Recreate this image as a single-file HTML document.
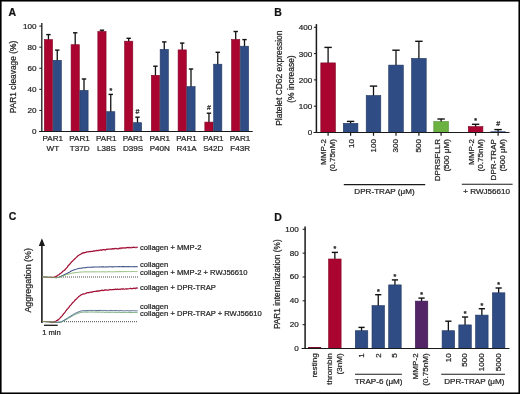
<!DOCTYPE html>
<html><head><meta charset="utf-8"><style>
html,body{margin:0;padding:0;background:#fff;}
body{width:520px;height:394px;overflow:hidden;}
svg{display:block;font-family:"Liberation Sans",sans-serif;will-change:transform;}
text{stroke:#222;stroke-width:0.22px;}
</style></head><body>
<svg width="520" height="394" viewBox="0 0 520 394">
<rect x="0" y="0" width="520" height="394" fill="#fff"/>
<text x="8.5" y="16.3" font-size="10.5" text-anchor="start" font-weight="bold" fill="#111">A</text>
<line x1="41.8" y1="23.0" x2="41.8" y2="131.5" stroke="#1a1a1a" stroke-width="1.3" />
<line x1="39.3" y1="131.5" x2="41.8" y2="131.5" stroke="#1a1a1a" stroke-width="1" />
<text x="36.4" y="134.4" font-size="8.1" text-anchor="end" font-weight="normal" fill="#1e1e1e">0</text>
<line x1="39.3" y1="110.42" x2="41.8" y2="110.42" stroke="#1a1a1a" stroke-width="1" />
<text x="36.4" y="113.32000000000001" font-size="8.1" text-anchor="end" font-weight="normal" fill="#1e1e1e">20</text>
<line x1="39.3" y1="89.34" x2="41.8" y2="89.34" stroke="#1a1a1a" stroke-width="1" />
<text x="36.4" y="92.24000000000001" font-size="8.1" text-anchor="end" font-weight="normal" fill="#1e1e1e">40</text>
<line x1="39.3" y1="68.25999999999999" x2="41.8" y2="68.25999999999999" stroke="#1a1a1a" stroke-width="1" />
<text x="36.4" y="71.16" font-size="8.1" text-anchor="end" font-weight="normal" fill="#1e1e1e">60</text>
<line x1="39.3" y1="47.17999999999999" x2="41.8" y2="47.17999999999999" stroke="#1a1a1a" stroke-width="1" />
<text x="36.4" y="50.07999999999999" font-size="8.1" text-anchor="end" font-weight="normal" fill="#1e1e1e">80</text>
<line x1="39.3" y1="26.099999999999994" x2="41.8" y2="26.099999999999994" stroke="#1a1a1a" stroke-width="1" />
<text x="36.4" y="28.999999999999993" font-size="8.1" text-anchor="end" font-weight="normal" fill="#1e1e1e">100</text>
<line x1="39.0" y1="131.5" x2="252.5" y2="131.5" stroke="#1a1a1a" stroke-width="1.1" />
<text x="16.0" y="77.0" font-size="8.4" text-anchor="middle" font-weight="normal" fill="#1e1e1e" transform="rotate(-90 16.0 77.0)">PAR1 cleavage (%)</text>
<line x1="48.45" y1="34.6" x2="48.45" y2="40.8" stroke="#111" stroke-width="1.3" />
<line x1="46.25" y1="34.6" x2="50.65" y2="34.6" stroke="#111" stroke-width="1.4" />
<line x1="57.25" y1="50.1" x2="57.25" y2="61.5" stroke="#111" stroke-width="1.3" />
<line x1="55.05" y1="50.1" x2="59.45" y2="50.1" stroke="#111" stroke-width="1.4" />
<rect x="44.35" y="39.60" width="8.20" height="91.90" fill="#aa0530" stroke="#7e0424" stroke-width="0.6"/>
<rect x="53.15" y="60.30" width="8.20" height="71.20" fill="#2f4c84" stroke="#22385f" stroke-width="0.6"/>
<text x="52.849999999999994" y="141.2" font-size="8.1" text-anchor="middle" font-weight="normal" fill="#1e1e1e">PAR1</text>
<text x="52.849999999999994" y="151" font-size="8.1" text-anchor="middle" font-weight="normal" fill="#1e1e1e">WT</text>
<line x1="75.2" y1="32.8" x2="75.2" y2="45.9" stroke="#111" stroke-width="1.3" />
<line x1="73.0" y1="32.8" x2="77.4" y2="32.8" stroke="#111" stroke-width="1.4" />
<line x1="84.0" y1="79.0" x2="84.0" y2="91.6" stroke="#111" stroke-width="1.3" />
<line x1="81.8" y1="79.0" x2="86.2" y2="79.0" stroke="#111" stroke-width="1.4" />
<rect x="71.10" y="44.70" width="8.20" height="86.80" fill="#aa0530" stroke="#7e0424" stroke-width="0.6"/>
<rect x="79.90" y="90.40" width="8.20" height="41.10" fill="#2f4c84" stroke="#22385f" stroke-width="0.6"/>
<text x="79.6" y="141.2" font-size="8.1" text-anchor="middle" font-weight="normal" fill="#1e1e1e">PAR1</text>
<text x="79.6" y="151" font-size="8.1" text-anchor="middle" font-weight="normal" fill="#1e1e1e">T37D</text>
<line x1="101.95" y1="30.2" x2="101.95" y2="32.7" stroke="#111" stroke-width="1.3" />
<line x1="99.75" y1="30.2" x2="104.15" y2="30.2" stroke="#111" stroke-width="1.4" />
<line x1="110.75" y1="94.4" x2="110.75" y2="112.9" stroke="#111" stroke-width="1.3" />
<line x1="108.55" y1="94.4" x2="112.95" y2="94.4" stroke="#111" stroke-width="1.4" />
<rect x="97.85" y="31.50" width="8.20" height="100.00" fill="#aa0530" stroke="#7e0424" stroke-width="0.6"/>
<rect x="106.65" y="111.70" width="8.20" height="19.80" fill="#2f4c84" stroke="#22385f" stroke-width="0.6"/>
<text x="110.75" y="93.48" font-size="7.0" text-anchor="middle" font-weight="bold" fill="#1e1e1e">*</text>
<text x="106.35" y="141.2" font-size="8.1" text-anchor="middle" font-weight="normal" fill="#1e1e1e">PAR1</text>
<text x="106.35" y="151" font-size="8.1" text-anchor="middle" font-weight="normal" fill="#1e1e1e">L38S</text>
<line x1="128.7" y1="38.3" x2="128.7" y2="42.4" stroke="#111" stroke-width="1.3" />
<line x1="126.5" y1="38.3" x2="130.9" y2="38.3" stroke="#111" stroke-width="1.4" />
<line x1="137.5" y1="117.2" x2="137.5" y2="123.9" stroke="#111" stroke-width="1.3" />
<line x1="135.3" y1="117.2" x2="139.7" y2="117.2" stroke="#111" stroke-width="1.4" />
<rect x="124.60" y="41.20" width="8.20" height="90.30" fill="#aa0530" stroke="#7e0424" stroke-width="0.6"/>
<rect x="133.40" y="122.70" width="8.20" height="8.80" fill="#2f4c84" stroke="#22385f" stroke-width="0.6"/>
<text x="137.5" y="113.79" font-size="7.0" text-anchor="middle" font-weight="normal" fill="#1e1e1e">#</text>
<text x="133.1" y="141.2" font-size="8.1" text-anchor="middle" font-weight="normal" fill="#1e1e1e">PAR1</text>
<text x="133.1" y="151" font-size="8.1" text-anchor="middle" font-weight="normal" fill="#1e1e1e">D39S</text>
<line x1="155.45" y1="66.2" x2="155.45" y2="76.5" stroke="#111" stroke-width="1.3" />
<line x1="153.25" y1="66.2" x2="157.65" y2="66.2" stroke="#111" stroke-width="1.4" />
<line x1="164.25" y1="41.9" x2="164.25" y2="50.6" stroke="#111" stroke-width="1.3" />
<line x1="162.05" y1="41.9" x2="166.45" y2="41.9" stroke="#111" stroke-width="1.4" />
<rect x="151.35" y="75.30" width="8.20" height="56.20" fill="#aa0530" stroke="#7e0424" stroke-width="0.6"/>
<rect x="160.15" y="49.40" width="8.20" height="82.10" fill="#2f4c84" stroke="#22385f" stroke-width="0.6"/>
<text x="159.85000000000002" y="141.2" font-size="8.1" text-anchor="middle" font-weight="normal" fill="#1e1e1e">PAR1</text>
<text x="159.85000000000002" y="151" font-size="8.1" text-anchor="middle" font-weight="normal" fill="#1e1e1e">P40N</text>
<line x1="182.2" y1="43.1" x2="182.2" y2="51.1" stroke="#111" stroke-width="1.3" />
<line x1="180.0" y1="43.1" x2="184.4" y2="43.1" stroke="#111" stroke-width="1.4" />
<line x1="191.0" y1="69.0" x2="191.0" y2="87.8" stroke="#111" stroke-width="1.3" />
<line x1="188.8" y1="69.0" x2="193.2" y2="69.0" stroke="#111" stroke-width="1.4" />
<rect x="178.10" y="49.90" width="8.20" height="81.60" fill="#aa0530" stroke="#7e0424" stroke-width="0.6"/>
<rect x="186.90" y="86.60" width="8.20" height="44.90" fill="#2f4c84" stroke="#22385f" stroke-width="0.6"/>
<text x="186.60000000000002" y="141.2" font-size="8.1" text-anchor="middle" font-weight="normal" fill="#1e1e1e">PAR1</text>
<text x="186.60000000000002" y="151" font-size="8.1" text-anchor="middle" font-weight="normal" fill="#1e1e1e">R41A</text>
<line x1="208.95" y1="113.2" x2="208.95" y2="123.3" stroke="#111" stroke-width="1.3" />
<line x1="206.75" y1="113.2" x2="211.15" y2="113.2" stroke="#111" stroke-width="1.4" />
<line x1="217.75" y1="52.3" x2="217.75" y2="65.4" stroke="#111" stroke-width="1.3" />
<line x1="215.55" y1="52.3" x2="219.95" y2="52.3" stroke="#111" stroke-width="1.4" />
<rect x="204.85" y="122.10" width="8.20" height="9.40" fill="#aa0530" stroke="#7e0424" stroke-width="0.6"/>
<rect x="213.65" y="64.20" width="8.20" height="67.30" fill="#2f4c84" stroke="#22385f" stroke-width="0.6"/>
<text x="208.95" y="109.79" font-size="7.0" text-anchor="middle" font-weight="normal" fill="#1e1e1e">#</text>
<text x="213.35000000000002" y="141.2" font-size="8.1" text-anchor="middle" font-weight="normal" fill="#1e1e1e">PAR1</text>
<text x="213.35000000000002" y="151" font-size="8.1" text-anchor="middle" font-weight="normal" fill="#1e1e1e">S42D</text>
<line x1="235.7" y1="31.5" x2="235.7" y2="40.7" stroke="#111" stroke-width="1.3" />
<line x1="233.5" y1="31.5" x2="237.9" y2="31.5" stroke="#111" stroke-width="1.4" />
<line x1="244.5" y1="39.6" x2="244.5" y2="47.4" stroke="#111" stroke-width="1.3" />
<line x1="242.3" y1="39.6" x2="246.7" y2="39.6" stroke="#111" stroke-width="1.4" />
<rect x="231.60" y="39.50" width="8.20" height="92.00" fill="#aa0530" stroke="#7e0424" stroke-width="0.6"/>
<rect x="240.40" y="46.20" width="8.20" height="85.30" fill="#2f4c84" stroke="#22385f" stroke-width="0.6"/>
<text x="240.10000000000002" y="141.2" font-size="8.1" text-anchor="middle" font-weight="normal" fill="#1e1e1e">PAR1</text>
<text x="240.10000000000002" y="151" font-size="8.1" text-anchor="middle" font-weight="normal" fill="#1e1e1e">F43R</text>
<line x1="39.0" y1="131.5" x2="252.5" y2="131.5" stroke="#1a1a1a" stroke-width="1.1" />
<text x="274.3" y="16.0" font-size="10.5" text-anchor="start" font-weight="bold" fill="#111">B</text>
<line x1="316.4" y1="24.1" x2="316.4" y2="132.5" stroke="#1a1a1a" stroke-width="1.5" />
<line x1="313.9" y1="132.5" x2="316.4" y2="132.5" stroke="#1a1a1a" stroke-width="1" />
<text x="312.2" y="135.4" font-size="8.1" text-anchor="end" font-weight="normal" fill="#1e1e1e">0</text>
<line x1="313.9" y1="106.2" x2="316.4" y2="106.2" stroke="#1a1a1a" stroke-width="1" />
<text x="312.2" y="109.10000000000001" font-size="8.1" text-anchor="end" font-weight="normal" fill="#1e1e1e">100</text>
<line x1="313.9" y1="79.9" x2="316.4" y2="79.9" stroke="#1a1a1a" stroke-width="1" />
<text x="312.2" y="82.80000000000001" font-size="8.1" text-anchor="end" font-weight="normal" fill="#1e1e1e">200</text>
<line x1="313.9" y1="53.599999999999994" x2="316.4" y2="53.599999999999994" stroke="#1a1a1a" stroke-width="1" />
<text x="312.2" y="56.49999999999999" font-size="8.1" text-anchor="end" font-weight="normal" fill="#1e1e1e">300</text>
<line x1="313.9" y1="27.299999999999997" x2="316.4" y2="27.299999999999997" stroke="#1a1a1a" stroke-width="1" />
<text x="312.2" y="30.199999999999996" font-size="8.1" text-anchor="end" font-weight="normal" fill="#1e1e1e">400</text>
<text x="281.9" y="78.2" font-size="8.45" text-anchor="middle" font-weight="normal" fill="#1e1e1e" transform="rotate(-90 281.9 78.2)">Platelet CD62 expression</text>
<text x="293.6" y="79.0" font-size="8.45" text-anchor="middle" font-weight="normal" fill="#1e1e1e" transform="rotate(-90 293.6 79.0)">(% increase)</text>
<line x1="328.1" y1="47.4" x2="328.1" y2="64.1" stroke="#111" stroke-width="1.3" />
<line x1="324.4" y1="47.4" x2="331.8" y2="47.4" stroke="#111" stroke-width="1.4" />
<rect x="320.80" y="62.90" width="14.60" height="69.60" fill="#aa0530" stroke="#7e0424" stroke-width="0.6"/>
<line x1="328.1" y1="132.5" x2="328.1" y2="135.8" stroke="#1a1a1a" stroke-width="1.2" />
<line x1="350.6" y1="121.4" x2="350.6" y2="124.5" stroke="#111" stroke-width="1.3" />
<line x1="346.9" y1="121.4" x2="354.3" y2="121.4" stroke="#111" stroke-width="1.4" />
<rect x="343.30" y="123.30" width="14.60" height="9.20" fill="#2f4c84" stroke="#22385f" stroke-width="0.6"/>
<line x1="350.6" y1="132.5" x2="350.6" y2="135.8" stroke="#1a1a1a" stroke-width="1.2" />
<line x1="373.5" y1="86.1" x2="373.5" y2="96.7" stroke="#111" stroke-width="1.3" />
<line x1="369.8" y1="86.1" x2="377.2" y2="86.1" stroke="#111" stroke-width="1.4" />
<rect x="366.20" y="95.50" width="14.60" height="37.00" fill="#2f4c84" stroke="#22385f" stroke-width="0.6"/>
<line x1="373.5" y1="132.5" x2="373.5" y2="135.8" stroke="#1a1a1a" stroke-width="1.2" />
<line x1="396.0" y1="50.2" x2="396.0" y2="66.3" stroke="#111" stroke-width="1.3" />
<line x1="392.3" y1="50.2" x2="399.7" y2="50.2" stroke="#111" stroke-width="1.4" />
<rect x="388.70" y="65.10" width="14.60" height="67.40" fill="#2f4c84" stroke="#22385f" stroke-width="0.6"/>
<line x1="396.0" y1="132.5" x2="396.0" y2="135.8" stroke="#1a1a1a" stroke-width="1.2" />
<line x1="418.9" y1="41.3" x2="418.9" y2="59.6" stroke="#111" stroke-width="1.3" />
<line x1="415.2" y1="41.3" x2="422.6" y2="41.3" stroke="#111" stroke-width="1.4" />
<rect x="411.60" y="58.40" width="14.60" height="74.10" fill="#2f4c84" stroke="#22385f" stroke-width="0.6"/>
<line x1="418.90000000000003" y1="132.5" x2="418.90000000000003" y2="135.8" stroke="#1a1a1a" stroke-width="1.2" />
<line x1="441.1" y1="119.0" x2="441.1" y2="122.8" stroke="#111" stroke-width="1.3" />
<line x1="437.4" y1="119.0" x2="444.8" y2="119.0" stroke="#111" stroke-width="1.4" />
<rect x="433.80" y="121.60" width="14.60" height="10.90" fill="#6cb243" stroke="#4f8a30" stroke-width="0.6"/>
<line x1="441.1" y1="132.5" x2="441.1" y2="135.8" stroke="#1a1a1a" stroke-width="1.2" />
<line x1="475.6" y1="124.3" x2="475.6" y2="127.8" stroke="#111" stroke-width="1.3" />
<line x1="471.9" y1="124.3" x2="479.3" y2="124.3" stroke="#111" stroke-width="1.4" />
<rect x="468.30" y="126.60" width="14.60" height="5.90" fill="#aa0530" stroke="#7e0424" stroke-width="0.6"/>
<line x1="475.6" y1="132.5" x2="475.6" y2="135.8" stroke="#1a1a1a" stroke-width="1.2" />
<text x="475.6" y="123.38" font-size="7.0" text-anchor="middle" font-weight="bold" fill="#1e1e1e">*</text>
<line x1="498.1" y1="129.6" x2="498.1" y2="132.8" stroke="#111" stroke-width="1.3" />
<line x1="494.4" y1="129.6" x2="501.8" y2="129.6" stroke="#111" stroke-width="1.4" />
<rect x="490.50" y="131.30" width="15.20" height="1.20" fill="#2f4c84"/>
<line x1="498.1" y1="132.5" x2="498.1" y2="135.8" stroke="#1a1a1a" stroke-width="1.2" />
<text x="498.1" y="126.19" font-size="7.0" text-anchor="middle" font-weight="normal" fill="#1e1e1e">#</text>
<line x1="313.59999999999997" y1="132.5" x2="509.5" y2="132.5" stroke="#1a1a1a" stroke-width="1.1" />
<text x="326.12" y="139" font-size="8.1" text-anchor="end" fill="#1e1e1e" transform="rotate(-90 326.12 139)">MMP-2</text>
<text x="335.32" y="139" font-size="8.1" text-anchor="end" fill="#1e1e1e" transform="rotate(-90 335.32 139)">(0.75nM)</text>
<text x="353.72" y="139" font-size="8.1" text-anchor="end" fill="#1e1e1e" transform="rotate(-90 353.72 139)">10</text>
<text x="375.82" y="139" font-size="8.1" text-anchor="end" fill="#1e1e1e" transform="rotate(-90 375.82 139)">100</text>
<text x="398.12" y="139" font-size="8.1" text-anchor="end" fill="#1e1e1e" transform="rotate(-90 398.12 139)">300</text>
<text x="420.52" y="139" font-size="8.1" text-anchor="end" fill="#1e1e1e" transform="rotate(-90 420.52 139)">500</text>
<text x="439.92" y="139" font-size="8.1" text-anchor="end" fill="#1e1e1e" transform="rotate(-90 439.92 139)">DPRSFLLR</text>
<text x="448.92" y="139" font-size="8.1" text-anchor="end" fill="#1e1e1e" transform="rotate(-90 448.92 139)">(500 μM)</text>
<text x="474.32" y="139" font-size="8.1" text-anchor="end" fill="#1e1e1e" transform="rotate(-90 474.32 139)">MMP-2</text>
<text x="482.92" y="139" font-size="8.1" text-anchor="end" fill="#1e1e1e" transform="rotate(-90 482.92 139)">(0.75nM)</text>
<text x="496.12" y="139" font-size="8.1" text-anchor="end" fill="#1e1e1e" transform="rotate(-90 496.12 139)">DPR-TRAP</text>
<text x="504.72" y="139" font-size="8.1" text-anchor="end" fill="#1e1e1e" transform="rotate(-90 504.72 139)">(500 μM)</text>
<line x1="343.8" y1="184.6" x2="425.2" y2="184.6" stroke="#1a1a1a" stroke-width="1.1" />
<text x="384.5" y="194.0" font-size="8.1" text-anchor="middle" font-weight="normal" fill="#1e1e1e">DPR-TRAP (μM)</text>
<line x1="461.8" y1="184.3" x2="512.6" y2="184.3" stroke="#1a1a1a" stroke-width="1.1" />
<text x="486.7" y="194.0" font-size="8.1" text-anchor="middle" font-weight="normal" fill="#1e1e1e">+ RWJ56610</text>
<text x="8.7" y="220.3" font-size="10.5" text-anchor="start" font-weight="bold" fill="#111">C</text>
<line x1="41.9" y1="244" x2="41.9" y2="323" stroke="#1a1a1a" stroke-width="1.6" />
<path d="M38.8,246 L41.9,238.2 L45.0,246 Z" fill="#1a1a1a"/>
<text x="31.4" y="280.3" font-size="8.95" text-anchor="middle" font-weight="normal" fill="#1e1e1e" transform="rotate(-90 31.4 280.3)">Aggregation (%)</text>
<line x1="59" y1="277.0" x2="138" y2="277.0" stroke="#4a4a4a" stroke-width="1" stroke-dasharray="1,1"/>
<path d="M50.00,277.14 L50.78,277.39 L51.89,277.35 L53.00,277.46 L53.99,277.33 L54.99,276.74 L56.00,276.31 L56.72,276.41 L57.42,275.61 L58.21,275.01 L59.20,274.70 L59.89,273.85 L60.67,273.48 L61.50,272.61 L62.38,272.01 L63.27,270.98 L64.15,270.49 L65.00,269.82 L65.83,268.75 L66.66,267.94 L67.49,266.92 L68.32,265.55 L69.15,264.96 L69.98,263.88 L70.80,262.78 L71.64,261.72 L72.49,261.31 L73.34,260.18 L74.19,259.47 L75.01,258.75 L75.78,257.90 L76.50,257.35 L77.61,256.07 L78.58,255.56 L79.49,254.72 L80.40,254.46 L81.31,253.96 L82.19,253.13 L83.08,252.86 L84.00,252.63 L84.68,252.88 L85.30,252.39 L85.97,252.36 L86.83,251.99 L88.00,251.90 L88.58,251.73 L89.18,251.60 L89.80,251.63 L90.46,251.51 L91.16,251.58 L91.90,251.32 L92.70,251.34 L93.55,251.17 L94.47,251.11 L95.47,250.78 L96.54,250.34 L97.70,250.62 L98.32,250.61 L98.96,250.50 L99.63,250.22 L100.33,250.23 L101.05,249.85 L101.79,250.14 L102.56,249.90 L103.34,249.65 L104.13,249.43 L104.95,249.82 L105.77,249.82 L106.61,249.20 L107.45,249.54 L108.31,249.22 L109.17,248.98 L110.03,248.99 L110.90,249.19 L111.76,249.17 L112.63,248.60 L113.50,248.86 L114.36,248.44 L115.21,248.77 L116.06,248.47 L116.90,248.73 L117.72,248.72 L118.57,248.37 L119.45,248.60 L120.36,248.12 L121.29,247.91 L122.24,248.16 L123.19,247.75 L124.16,247.78 L125.13,247.85 L126.10,247.90 L127.07,247.57 L128.03,247.44 L128.97,247.87 L129.90,247.48 L130.80,247.81 L131.68,247.72 L132.53,247.35 L133.34,247.35 L134.11,247.34 L134.85,247.37 L135.53,247.30 L136.16,247.24 L136.74,247.24 L137.25,247.39 L137.70,247.10" fill="none" stroke="#cc1844" stroke-width="1.15" stroke-linejoin="round"/>
<path d="M50.00,277.31 L50.78,277.26 L51.89,277.74 L53.00,277.03 L53.99,276.97 L54.99,277.67 L56.00,276.63 L56.72,276.28 L57.42,275.07 L58.21,275.05 L59.20,274.51 L59.89,273.20 L60.67,273.44 L61.50,272.81 L62.38,271.31 L63.27,271.36 L64.15,270.36 L65.00,269.85 L65.83,268.53 L66.66,268.09 L67.49,267.15 L68.32,265.14 L69.15,264.19 L69.98,264.07 L70.80,263.55 L71.64,261.65 L72.49,261.03 L73.34,260.33 L74.19,259.08 L75.01,258.33 L75.78,257.51 L76.50,256.92 L77.61,256.27 L78.58,255.10 L79.49,254.58 L80.40,254.58 L81.31,253.07 L82.19,253.47 L83.08,253.41 L84.00,252.53 L84.68,252.21 L85.30,252.86 L85.97,251.91 L86.83,251.67 L88.00,251.81 L88.58,252.07 L89.18,251.13 L89.80,251.33 L90.46,251.23 L91.16,251.80 L91.90,251.13 L92.70,251.58 L93.55,250.49 L94.47,250.59 L95.47,250.89 L96.54,251.08 L97.70,250.33 L98.32,249.94 L98.96,249.72 L99.63,250.22 L100.33,249.67 L101.05,250.45 L101.79,250.42 L102.56,249.42 L103.34,249.47 L104.13,250.12 L104.95,249.81 L105.77,249.96 L106.61,249.23 L107.45,248.84 L108.31,248.99 L109.17,249.60 L110.03,248.79 L110.90,248.81 L111.76,248.83 L112.63,248.76 L113.50,248.67 L114.36,249.31 L115.21,248.16 L116.06,247.88 L116.90,249.12 L117.72,248.97 L118.57,249.05 L119.45,248.21 L120.36,248.86 L121.29,248.76 L122.24,247.71 L123.19,248.38 L124.16,248.44 L125.13,248.13 L126.10,247.86 L127.07,247.48 L128.03,247.49 L128.97,247.27 L129.90,246.99 L130.80,247.66 L131.68,247.18 L132.53,247.86 L133.34,246.74 L134.11,247.89 L134.85,247.55 L135.53,247.83 L136.16,247.75 L136.74,247.72 L137.25,247.24 L137.70,247.10" fill="none" stroke="#4a0a1c" stroke-width="0.45" stroke-linejoin="round"/>
<path d="M42.00,276.78 L42.50,276.98 L43.13,276.88 L43.89,276.95 L44.74,277.09 L45.66,277.10 L46.62,277.13 L47.61,277.31 L48.59,277.28 L49.55,277.26 L50.45,277.28 L51.27,277.46 L52.00,277.39 L53.07,277.52 L54.00,277.48 L54.84,277.50 L55.62,277.62 L56.39,277.68 L57.17,277.46 L58.00,277.47 L58.89,277.26 L59.81,276.91 L60.73,276.52 L61.65,275.90 L62.55,275.62 L63.40,275.26 L64.20,274.69 L65.21,274.28 L66.13,273.84 L66.99,273.47 L67.83,273.02 L68.70,272.59 L69.58,272.20 L70.46,271.53 L71.34,271.06 L72.22,270.62 L73.10,270.21 L74.00,269.83 L74.92,269.72 L75.83,269.39 L76.73,268.94 L77.60,268.80 L78.35,268.57 L78.99,268.43 L79.65,268.32 L80.48,268.28 L81.60,268.12 L82.20,267.99 L82.82,267.87 L83.46,267.81 L84.14,267.68 L84.87,267.69 L85.65,267.64 L86.50,267.47 L87.43,267.31 L88.45,267.26 L89.57,267.23 L90.80,267.23 L91.40,267.24 L92.02,267.12 L92.66,267.20 L93.32,267.13 L94.00,267.06 L94.70,267.03 L95.41,267.04 L96.14,267.07 L96.89,266.98 L97.66,267.03 L98.44,266.96 L99.24,266.89 L100.06,266.94 L100.89,266.97 L101.74,266.80 L102.60,266.87 L103.48,266.86 L104.37,266.96 L105.27,266.96 L106.19,266.81 L107.12,266.93 L108.07,266.89 L109.03,266.75 L110.00,266.79 L110.71,266.70 L111.45,266.86 L112.23,266.82 L113.04,266.87 L113.87,266.84 L114.73,266.80 L115.62,266.81 L116.52,266.77 L117.44,266.65 L118.37,266.77 L119.31,266.62 L120.26,266.65 L121.22,266.80 L122.18,266.62 L123.14,266.63 L124.10,266.63 L125.05,266.82 L125.99,266.65 L126.93,266.61 L127.84,266.80 L128.75,266.63 L129.63,266.80 L130.49,266.76 L131.32,266.79 L132.13,266.82 L132.91,266.73 L133.65,266.78 L134.36,266.60 L135.03,266.77 L135.66,266.71 L136.24,266.76 L136.78,266.61 L137.27,266.76 L137.70,266.70" fill="none" stroke="#3e5086" stroke-width="1.05" stroke-linejoin="round"/>
<path d="M42.00,277.00 L42.49,276.82 L43.11,276.92 L43.85,277.02 L44.67,277.13 L45.57,277.05 L46.51,277.09 L47.48,277.16 L48.46,277.29 L49.42,277.37 L50.34,277.33 L51.21,277.35 L52.00,277.38 L52.98,277.38 L53.93,277.42 L54.86,277.35 L55.75,277.46 L56.63,277.56 L57.47,277.41 L58.28,277.44 L59.06,277.22 L59.80,277.25 L60.82,277.03 L61.72,276.70 L62.55,276.30 L63.36,275.91 L64.19,275.58 L65.10,275.30 L65.94,274.84 L66.80,274.55 L67.69,274.43 L68.59,274.20 L69.50,273.85 L70.40,273.60 L71.30,273.45 L72.21,273.13 L73.16,272.98 L74.11,272.81 L75.06,272.77 L75.96,272.57 L76.82,272.44 L77.60,272.45 L78.40,272.39 L78.91,272.14 L79.43,272.17 L80.24,272.04 L81.60,272.08 L82.18,272.00 L82.81,271.91 L83.51,271.88 L84.25,271.82 L85.04,271.91 L85.87,271.87 L86.73,271.81 L87.61,271.84 L88.52,271.82 L89.44,271.92 L90.38,271.76 L91.32,271.95 L92.25,271.82 L93.18,271.84 L94.10,271.80 L95.00,271.88 L95.78,271.87 L96.53,271.81 L97.26,271.79 L97.98,271.85 L98.70,271.88 L99.41,271.77 L100.13,271.86 L100.86,271.91 L101.61,271.80 L102.37,271.74 L103.17,271.75 L104.00,271.87 L104.87,271.86 L105.78,271.93 L106.75,271.90 L107.77,271.75 L108.85,271.73 L110.00,271.74 L110.65,271.72 L111.34,271.84 L112.08,271.87 L112.85,271.87 L113.65,271.71 L114.48,271.85 L115.34,271.71 L116.23,271.73 L117.14,271.79 L118.06,271.63 L119.00,271.62 L119.95,271.78 L120.92,271.64 L121.88,271.65 L122.85,271.69 L123.82,271.70 L124.79,271.53 L125.75,271.60 L126.70,271.61 L127.63,271.61 L128.56,271.54 L129.46,271.62 L130.34,271.69 L131.19,271.55 L132.02,271.58 L132.82,271.46 L133.58,271.49 L134.31,271.58 L134.99,271.44 L135.63,271.62 L136.23,271.61 L136.77,271.41 L137.26,271.61 L137.70,271.50" fill="none" stroke="#8cb872" stroke-width="1.0" stroke-linejoin="round"/>
<path d="M42.00,276.90 L42.58,276.93 L43.37,276.97 L44.31,277.02 L45.33,277.08 L46.35,277.14 L47.30,277.20 L48.22,277.27 L49.19,277.35 L50.16,277.44 L51.09,277.51 L51.95,277.57 L52.70,277.60 L53.93,277.54 L54.87,277.40 L55.50,277.30" fill="none" stroke="#8a7f5a" stroke-width="1.1" stroke-linejoin="round"/>
<line x1="64" y1="321.7" x2="138" y2="321.7" stroke="#4a4a4a" stroke-width="1" stroke-dasharray="1,1"/>
<path d="M50.00,321.72 L50.63,322.13 L51.54,322.34 L52.60,322.08 L53.49,322.12 L54.48,321.80 L55.50,321.48 L56.50,320.66 L57.45,320.38 L58.40,319.84 L59.35,318.90 L60.30,317.92 L61.27,316.60 L62.25,315.62 L63.23,314.26 L64.20,313.23 L65.15,311.98 L66.10,310.68 L67.05,309.22 L68.00,308.29 L68.97,307.09 L69.95,305.65 L70.93,304.93 L71.90,303.69 L72.88,302.30 L73.86,301.75 L74.82,300.29 L75.70,299.50 L76.73,298.68 L77.67,297.68 L78.60,296.83 L79.54,296.17 L80.49,295.43 L81.50,294.79 L82.34,294.33 L83.23,293.93 L84.13,294.01 L85.00,293.75 L85.62,293.40 L86.08,293.33 L86.80,292.90 L88.20,292.56 L88.77,292.52 L89.41,292.70 L90.10,292.07 L90.85,292.22 L91.65,291.92 L92.49,292.09 L93.36,291.69 L94.27,291.52 L95.20,291.42 L96.14,291.35 L97.10,291.35 L98.07,290.96 L99.04,291.13 L100.00,290.57 L100.74,290.58 L101.48,290.39 L102.23,290.32 L102.97,290.64 L103.72,290.53 L104.48,290.13 L105.25,290.06 L106.02,290.13 L106.82,290.26 L107.63,290.23 L108.46,290.13 L109.31,289.97 L110.19,289.63 L111.09,289.72 L112.02,289.53 L112.98,289.66 L113.97,289.61 L115.00,289.32 L115.70,289.30 L116.44,289.57 L117.22,289.07 L118.04,289.48 L118.89,289.49 L119.76,289.47 L120.67,289.07 L121.59,289.12 L122.52,289.09 L123.47,289.06 L124.42,289.21 L125.38,288.99 L126.34,288.70 L127.29,288.98 L128.23,288.71 L129.16,288.73 L130.07,288.75 L130.95,288.27 L131.81,288.68 L132.64,288.57 L133.44,288.43 L134.20,288.41 L134.91,288.33 L135.58,288.13 L136.20,288.30 L136.76,287.98 L137.26,288.23 L137.70,288.20" fill="none" stroke="#cc1844" stroke-width="1.15" stroke-linejoin="round"/>
<path d="M50.00,322.00 L50.63,321.89 L51.54,322.28 L52.60,322.84 L53.49,322.56 L54.48,321.20 L55.50,321.71 L56.50,320.97 L57.45,319.60 L58.40,319.37 L59.35,318.42 L60.30,317.31 L61.27,316.89 L62.25,316.23 L63.23,314.10 L64.20,313.62 L65.15,312.15 L66.10,310.13 L67.05,309.91 L68.00,308.34 L68.97,307.61 L69.95,306.15 L70.93,305.04 L71.90,303.38 L72.88,302.96 L73.86,302.09 L74.82,301.01 L75.70,299.51 L76.73,298.90 L77.67,297.60 L78.60,296.25 L79.54,295.44 L80.49,294.86 L81.50,294.48 L82.34,294.05 L83.23,294.18 L84.13,294.16 L85.00,293.65 L85.62,293.26 L86.08,293.40 L86.80,292.71 L88.20,292.65 L88.77,292.95 L89.41,292.34 L90.10,291.90 L90.85,292.77 L91.65,292.38 L92.49,291.74 L93.36,291.59 L94.27,291.67 L95.20,291.61 L96.14,290.94 L97.10,290.49 L98.07,290.64 L99.04,291.32 L100.00,290.30 L100.74,290.66 L101.48,290.20 L102.23,290.14 L102.97,290.01 L103.72,290.26 L104.48,289.86 L105.25,289.59 L106.02,289.64 L106.82,289.65 L107.63,290.03 L108.46,289.36 L109.31,289.24 L110.19,289.77 L111.09,289.65 L112.02,289.99 L112.98,289.01 L113.97,289.44 L115.00,289.36 L115.70,288.79 L116.44,290.06 L117.22,288.96 L118.04,288.73 L118.89,289.22 L119.76,288.73 L120.67,289.32 L121.59,288.88 L122.52,288.51 L123.47,288.36 L124.42,289.25 L125.38,288.56 L126.34,289.22 L127.29,288.72 L128.23,289.32 L129.16,288.39 L130.07,288.27 L130.95,288.24 L131.81,288.96 L132.64,288.66 L133.44,288.22 L134.20,287.82 L134.91,288.61 L135.58,288.97 L136.20,288.41 L136.76,287.56 L137.26,287.57 L137.70,288.20" fill="none" stroke="#4a0a1c" stroke-width="0.45" stroke-linejoin="round"/>
<path d="M42.00,321.38 L42.50,321.43 L43.15,321.43 L43.93,321.48 L44.80,321.72 L45.74,321.85 L46.72,321.70 L47.72,321.99 L48.70,321.90 L49.65,322.06 L50.54,322.14 L51.33,322.19 L52.00,321.96 L53.25,322.12 L54.18,322.26 L54.94,322.41 L55.67,322.17 L56.50,322.24 L57.44,322.41 L58.40,322.20 L59.37,322.26 L60.34,322.15 L61.30,322.05 L62.26,321.79 L63.22,321.11 L64.18,320.75 L65.14,320.20 L66.10,319.70 L66.90,319.18 L67.70,318.85 L68.50,318.23 L69.30,317.79 L70.10,317.27 L70.90,316.98 L71.84,316.34 L72.77,315.71 L73.71,315.12 L74.68,314.75 L75.70,314.23 L76.47,313.95 L77.26,313.55 L78.08,313.29 L78.91,312.92 L79.76,312.85 L80.63,312.43 L81.50,312.39 L82.24,312.36 L82.95,312.24 L83.64,312.00 L84.36,312.00 L85.13,312.15 L85.97,312.07 L86.92,312.13 L88.00,312.11 L88.62,311.98 L89.26,312.12 L89.92,312.07 L90.60,311.96 L91.30,311.98 L92.02,311.91 L92.77,312.02 L93.55,312.21 L94.36,311.97 L95.20,312.13 L96.08,312.01 L97.00,312.02 L97.96,312.21 L98.96,312.11 L100.00,312.06 L100.65,312.10 L101.34,312.26 L102.04,312.25 L102.77,312.09 L103.52,312.16 L104.30,312.39 L105.08,312.17 L105.89,312.28 L106.71,312.25 L107.53,312.36 L108.37,312.32 L109.22,312.38 L110.07,312.31 L110.93,312.22 L111.78,312.22 L112.64,312.20 L113.49,312.43 L114.34,312.23 L115.18,312.21 L116.02,312.50 L116.84,312.28 L117.66,312.49 L118.45,312.26 L119.24,312.38 L120.00,312.32 L120.87,312.51 L121.76,312.45 L122.67,312.47 L123.60,312.52 L124.53,312.56 L125.47,312.41 L126.41,312.50 L127.35,312.46 L128.28,312.37 L129.20,312.60 L130.10,312.54 L130.98,312.62 L131.84,312.44 L132.66,312.55 L133.46,312.54 L134.21,312.63 L134.92,312.44 L135.59,312.53 L136.20,312.58 L136.76,312.46 L137.26,312.61 L137.70,312.60" fill="none" stroke="#5f9a66" stroke-width="0.9" stroke-linejoin="round"/>
<path d="M42.00,321.57 L42.50,321.51 L43.15,321.62 L43.93,321.65 L44.80,321.59 L45.74,321.69 L46.72,321.94 L47.72,321.81 L48.70,321.89 L49.65,321.85 L50.54,321.94 L51.33,321.97 L52.00,322.23 L53.25,322.23 L54.18,322.32 L54.94,322.37 L55.67,322.26 L56.50,322.33 L57.44,322.19 L58.40,322.13 L59.37,322.24 L60.34,322.08 L61.30,321.83 L62.26,321.27 L63.22,320.79 L64.18,320.04 L65.14,319.56 L66.10,318.93 L66.90,318.27 L67.70,317.99 L68.50,317.31 L69.30,316.82 L70.10,316.54 L70.90,315.94 L71.84,315.42 L72.77,314.85 L73.71,314.07 L74.68,313.70 L75.70,313.03 L76.47,312.72 L77.26,312.35 L78.08,312.13 L78.91,311.82 L79.76,311.40 L80.63,311.09 L81.50,310.94 L82.24,310.83 L82.95,310.62 L83.64,310.57 L84.36,310.70 L85.13,310.64 L85.97,310.70 L86.92,310.67 L88.00,310.61 L88.62,310.45 L89.26,310.37 L89.92,310.41 L90.60,310.45 L91.30,310.46 L92.02,310.47 L92.77,310.41 L93.55,310.56 L94.36,310.40 L95.20,310.46 L96.08,310.59 L97.00,310.57 L97.96,310.43 L98.96,310.42 L100.00,310.59 L100.65,310.36 L101.34,310.40 L102.04,310.52 L102.77,310.53 L103.52,310.43 L104.30,310.40 L105.08,310.46 L105.89,310.63 L106.71,310.55 L107.53,310.71 L108.37,310.67 L109.22,310.73 L110.07,310.46 L110.93,310.51 L111.78,310.47 L112.64,310.61 L113.49,310.59 L114.34,310.51 L115.18,310.67 L116.02,310.54 L116.84,310.61 L117.66,310.60 L118.45,310.78 L119.24,310.67 L120.00,310.63 L120.87,310.57 L121.76,310.69 L122.67,310.76 L123.60,310.78 L124.53,310.86 L125.47,310.83 L126.41,310.67 L127.35,310.64 L128.28,310.83 L129.20,310.84 L130.10,310.77 L130.98,310.87 L131.84,310.79 L132.66,310.71 L133.46,310.68 L134.21,310.64 L134.92,310.83 L135.59,310.91 L136.20,310.91 L136.76,310.79 L137.26,310.85 L137.70,310.80" fill="none" stroke="#34567a" stroke-width="0.9" stroke-linejoin="round"/>
<path d="M42.00,321.50 L42.54,321.49 L43.27,321.48 L44.14,321.46 L45.11,321.45 L46.10,321.44 L47.06,321.44 L47.95,321.46 L48.70,321.50 L49.88,321.67 L50.86,321.92 L51.73,322.16 L52.60,322.30 L53.56,322.30 L54.54,322.20 L55.40,322.08 L56.00,322.00" fill="none" stroke="#8a7f5a" stroke-width="1.1" stroke-linejoin="round"/>
<line x1="44.0" y1="325.3" x2="57.7" y2="325.3" stroke="#1a1a1a" stroke-width="1.3" />
<text x="42.2" y="335.0" font-size="7.6" text-anchor="start" font-weight="normal" fill="#1e1e1e">1 min</text>
<text x="140" y="249.5" font-size="7.6" text-anchor="start" font-weight="normal" fill="#1e1e1e">collagen + MMP-2</text>
<text x="140" y="267.2" font-size="7.6" text-anchor="start" font-weight="normal" fill="#1e1e1e">collagen</text>
<text x="140" y="274.8" font-size="7.6" text-anchor="start" font-weight="normal" fill="#1e1e1e">collagen + MMP-2 + RWJ56610</text>
<text x="140" y="290.2" font-size="7.6" text-anchor="start" font-weight="normal" fill="#1e1e1e">collagen + DPR-TRAP</text>
<text x="140" y="309.3" font-size="7.6" text-anchor="start" font-weight="normal" fill="#1e1e1e">collagen</text>
<text x="140" y="316.3" font-size="7.6" text-anchor="start" font-weight="normal" fill="#1e1e1e">collagen + DPR-TRAP + RWJ56610</text>
<text x="274.3" y="221.0" font-size="10.5" text-anchor="start" font-weight="bold" fill="#111">D</text>
<line x1="305.1" y1="226.4" x2="305.1" y2="348.5" stroke="#1a1a1a" stroke-width="1.5" />
<line x1="302.6" y1="348.5" x2="305.1" y2="348.5" stroke="#1a1a1a" stroke-width="1" />
<text x="298.8" y="351.0" font-size="8.1" text-anchor="end" font-weight="normal" fill="#1e1e1e">0</text>
<line x1="302.6" y1="324.66" x2="305.1" y2="324.66" stroke="#1a1a1a" stroke-width="1" />
<text x="298.8" y="327.16" font-size="8.1" text-anchor="end" font-weight="normal" fill="#1e1e1e">20</text>
<line x1="302.6" y1="300.82" x2="305.1" y2="300.82" stroke="#1a1a1a" stroke-width="1" />
<text x="298.8" y="303.32" font-size="8.1" text-anchor="end" font-weight="normal" fill="#1e1e1e">40</text>
<line x1="302.6" y1="276.98" x2="305.1" y2="276.98" stroke="#1a1a1a" stroke-width="1" />
<text x="298.8" y="279.48" font-size="8.1" text-anchor="end" font-weight="normal" fill="#1e1e1e">60</text>
<line x1="302.6" y1="253.14" x2="305.1" y2="253.14" stroke="#1a1a1a" stroke-width="1" />
<text x="298.8" y="255.64" font-size="8.1" text-anchor="end" font-weight="normal" fill="#1e1e1e">80</text>
<line x1="302.6" y1="229.3" x2="305.1" y2="229.3" stroke="#1a1a1a" stroke-width="1" />
<text x="298.8" y="231.8" font-size="8.1" text-anchor="end" font-weight="normal" fill="#1e1e1e">100</text>
<text x="279.7" y="284.2" font-size="8.3" text-anchor="middle" font-weight="normal" fill="#1e1e1e" transform="rotate(-90 279.7 284.2)">PAR1 internalization (%)</text>
<rect x="308.00" y="347.00" width="13.10" height="1.50" fill="#7a1028"/>
<line x1="334.85" y1="252.4" x2="334.85" y2="260.2" stroke="#111" stroke-width="1.3" />
<line x1="331.75" y1="252.4" x2="337.95" y2="252.4" stroke="#111" stroke-width="1.4" />
<rect x="328.60" y="259.00" width="12.50" height="89.50" fill="#aa0530" stroke="#7e0424" stroke-width="0.6"/>
<text x="334.85" y="251.48" font-size="7.0" text-anchor="middle" font-weight="bold" fill="#1e1e1e">*</text>
<line x1="361.55" y1="327.4" x2="361.55" y2="331.9" stroke="#111" stroke-width="1.3" />
<line x1="358.45" y1="327.4" x2="364.65" y2="327.4" stroke="#111" stroke-width="1.4" />
<rect x="355.30" y="330.70" width="12.50" height="17.80" fill="#2f4c84" stroke="#22385f" stroke-width="0.6"/>
<line x1="378.25" y1="294.7" x2="378.25" y2="306.8" stroke="#111" stroke-width="1.3" />
<line x1="375.15" y1="294.7" x2="381.35" y2="294.7" stroke="#111" stroke-width="1.4" />
<rect x="372.00" y="305.60" width="12.50" height="42.90" fill="#2f4c84" stroke="#22385f" stroke-width="0.6"/>
<text x="378.25" y="293.78" font-size="7.0" text-anchor="middle" font-weight="bold" fill="#1e1e1e">*</text>
<line x1="394.95" y1="279.9" x2="394.95" y2="286.1" stroke="#111" stroke-width="1.3" />
<line x1="391.85" y1="279.9" x2="398.05" y2="279.9" stroke="#111" stroke-width="1.4" />
<rect x="388.70" y="284.90" width="12.50" height="63.60" fill="#2f4c84" stroke="#22385f" stroke-width="0.6"/>
<text x="394.95" y="278.98" font-size="7.0" text-anchor="middle" font-weight="bold" fill="#1e1e1e">*</text>
<line x1="421.55" y1="298.1" x2="421.55" y2="302.3" stroke="#111" stroke-width="1.3" />
<line x1="418.45" y1="298.1" x2="424.65" y2="298.1" stroke="#111" stroke-width="1.4" />
<rect x="415.30" y="301.10" width="12.50" height="47.40" fill="#532566" stroke="#3b1a49" stroke-width="0.6"/>
<text x="421.55" y="297.18" font-size="7.0" text-anchor="middle" font-weight="bold" fill="#1e1e1e">*</text>
<line x1="448.35" y1="321.2" x2="448.35" y2="331.9" stroke="#111" stroke-width="1.3" />
<line x1="445.25" y1="321.2" x2="451.45" y2="321.2" stroke="#111" stroke-width="1.4" />
<rect x="442.10" y="330.70" width="12.50" height="17.80" fill="#2f4c84" stroke="#22385f" stroke-width="0.6"/>
<line x1="465.05" y1="317.0" x2="465.05" y2="326.1" stroke="#111" stroke-width="1.3" />
<line x1="461.95" y1="317.0" x2="468.15" y2="317.0" stroke="#111" stroke-width="1.4" />
<rect x="458.80" y="324.90" width="12.50" height="23.60" fill="#2f4c84" stroke="#22385f" stroke-width="0.6"/>
<text x="465.05" y="316.08" font-size="7.0" text-anchor="middle" font-weight="bold" fill="#1e1e1e">*</text>
<line x1="481.85" y1="308.7" x2="481.85" y2="316.3" stroke="#111" stroke-width="1.3" />
<line x1="478.75" y1="308.7" x2="484.95" y2="308.7" stroke="#111" stroke-width="1.4" />
<rect x="475.60" y="315.10" width="12.50" height="33.40" fill="#2f4c84" stroke="#22385f" stroke-width="0.6"/>
<text x="481.85" y="307.78" font-size="7.0" text-anchor="middle" font-weight="bold" fill="#1e1e1e">*</text>
<line x1="498.65" y1="288.0" x2="498.65" y2="294.0" stroke="#111" stroke-width="1.3" />
<line x1="495.55" y1="288.0" x2="501.75" y2="288.0" stroke="#111" stroke-width="1.4" />
<rect x="492.40" y="292.80" width="12.50" height="55.70" fill="#2f4c84" stroke="#22385f" stroke-width="0.6"/>
<text x="498.65" y="287.08" font-size="7.0" text-anchor="middle" font-weight="bold" fill="#1e1e1e">*</text>
<line x1="301.6" y1="348.5" x2="509.4" y2="348.5" stroke="#1a1a1a" stroke-width="1.1" />
<text x="317.02" y="353.3" font-size="8.1" text-anchor="end" fill="#1e1e1e" transform="rotate(-90 317.02 353.3)">resting</text>
<text x="331.72" y="353.3" font-size="8.1" text-anchor="end" fill="#1e1e1e" transform="rotate(-90 331.72 353.3)">thrombin</text>
<text x="342.12" y="353.3" font-size="8.1" text-anchor="end" fill="#1e1e1e" transform="rotate(-90 342.12 353.3)">(3nM)</text>
<text x="363.62" y="353.3" font-size="8.1" text-anchor="end" fill="#1e1e1e" transform="rotate(-90 363.62 353.3)">1</text>
<text x="381.02" y="353.3" font-size="8.1" text-anchor="end" fill="#1e1e1e" transform="rotate(-90 381.02 353.3)">2</text>
<text x="397.12" y="353.3" font-size="8.1" text-anchor="end" fill="#1e1e1e" transform="rotate(-90 397.12 353.3)">5</text>
<text x="418.22" y="353.3" font-size="8.1" text-anchor="end" fill="#1e1e1e" transform="rotate(-90 418.22 353.3)">MMP-2</text>
<text x="427.52" y="353.3" font-size="8.1" text-anchor="end" fill="#1e1e1e" transform="rotate(-90 427.52 353.3)">(0.75nM)</text>
<text x="451.02" y="353.3" font-size="8.1" text-anchor="end" fill="#1e1e1e" transform="rotate(-90 451.02 353.3)">10</text>
<text x="467.32" y="353.3" font-size="8.1" text-anchor="end" fill="#1e1e1e" transform="rotate(-90 467.32 353.3)">500</text>
<text x="483.92" y="353.3" font-size="8.1" text-anchor="end" fill="#1e1e1e" transform="rotate(-90 483.92 353.3)">1000</text>
<text x="500.62" y="353.3" font-size="8.1" text-anchor="end" fill="#1e1e1e" transform="rotate(-90 500.62 353.3)">5000</text>
<line x1="355" y1="374.2" x2="401.9" y2="374.2" stroke="#1a1a1a" stroke-width="1.1" />
<text x="378.6" y="384.4" font-size="8.1" text-anchor="middle" font-weight="normal" fill="#1e1e1e">TRAP-6 (μM)</text>
<line x1="441.2" y1="374.2" x2="505" y2="374.2" stroke="#1a1a1a" stroke-width="1.1" />
<text x="474.3" y="384.4" font-size="8.1" text-anchor="middle" font-weight="normal" fill="#1e1e1e">DPR-TRAP (μM)</text>
<rect x="0.8" y="0.75" width="518.45" height="392.5" fill="none" stroke="#000" stroke-width="1.6"/>
</svg>
</body></html>
